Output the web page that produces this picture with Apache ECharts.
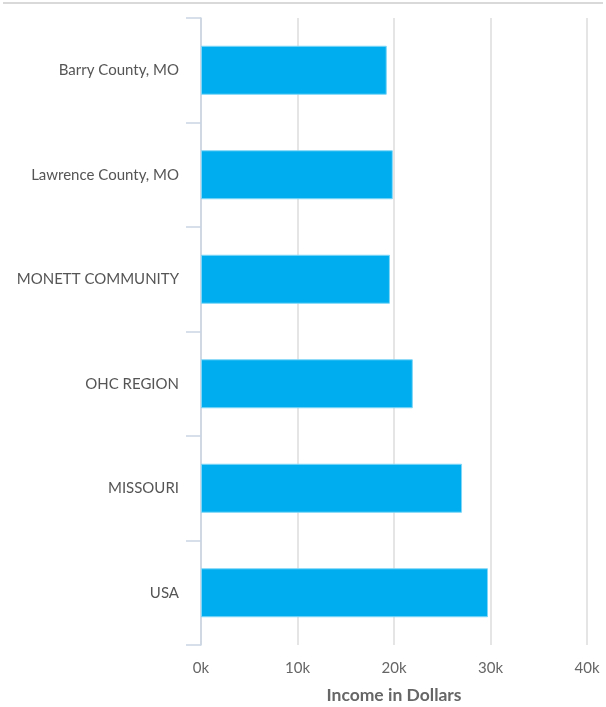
<!DOCTYPE html>
<html>
<head>
<meta charset="utf-8">
<script src="https://cdn.jsdelivr.net/npm/echarts@6/dist/echarts.min.js"></script>
<style>
  html, body { margin: 0; padding: 0; background: #fff; }
  #topRule { position: absolute; left: 3px; top: 2px; width: 600px; height: 2px; background: #d9d9d9; }
  #chart { width: 606px; height: 707px; }
</style>
</head>
<body>
<div id="topRule"></div>
<div id="chart"></div>
<script>
// Per-capita income by area (dollars)
const areas = ['Barry County, MO', 'Lawrence County, MO', 'MONETT COMMUNITY', 'OHC REGION', 'MISSOURI', 'USA'];
const income = [19250, 19880, 19580, 21950, 27050, 29740];
const xTicks = [0, 10000, 20000, 30000, 40000];

const chart = echarts.init(document.getElementById('chart'), null, { renderer: 'canvas' });
const font = 'Lato, "Source Sans Pro", sans-serif';

chart.setOption({
  animation: false,
  grid: { left: 201, right: 19, top: 18, bottom: 62, containLabel: false, outerBoundsMode: 'none' },
  xAxis: {
    type: 'value',
    min: xTicks[0],
    max: xTicks[xTicks.length - 1],
    interval: 10000,
    name: 'Income in Dollars',
    nameLocation: 'middle',
    nameGap: 41,
    nameTextStyle: { color: '#666', fontSize: 17.5, fontWeight: 'bold', fontFamily: font },
    axisLine: { show: false },
    axisTick: { show: false },
    axisLabel: {
      color: '#666', fontSize: 15, fontFamily: font, margin: 16,
      formatter: v => (v / 1000) + 'k'
    },
    splitLine: { show: true, lineStyle: { color: '#dcdcdc', width: 1.5 } }
  },
  yAxis: {
    type: 'category',
    data: areas,
    inverse: true,
    axisLine: { show: true, lineStyle: { color: '#c9d5e3', width: 1.5 } },
    axisTick: { show: true, length: 15, lineStyle: { color: '#c9d5e3', width: 1.5 } },
    axisLabel: { color: '#555', fontSize: 15, fontFamily: font, margin: 22 },
    splitLine: { show: false }
  },
  series: [{
    type: 'bar',
    data: income,
    barWidth: 49,
    itemStyle: { color: '#00aeef', borderColor: '#7fd6f7', borderWidth: 1 }
  }]
});
</script>
</body>
</html>
